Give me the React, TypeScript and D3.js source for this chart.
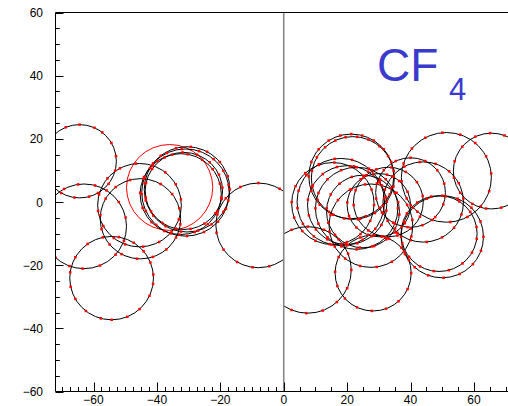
import * as d3 from "d3";

const W = 508;
const H = 406;

// axis frame (the right side of the original frame is cut off by the picture)
const X_DOMAIN: [number, number] = [-72, 72];
const Y_DOMAIN: [number, number] = [-60, 60];

const xTickLabels = [-60, -40, -20, 0, 20, 40, 60];
const yTickLabels = [-60, -40, -20, 0, 20, 40, 60];

type Track = { cx: number; cy: number; r: number; hits: number[] };

// tracks in the left half (x < 0): centre, radius, hit angles in degrees
const leftTracks: Track[] = [
  { cx: -64.4, cy: 12.9, r: 11.6, hits: [8, 30, 52, 66, 90, 112, 215, 240, 262, 285, 300, 322, 345] },
  { cx: -63, cy: -7.7, r: 13.4, hits: [12, 35, 58, 75, 98, 118, 140, 200, 228, 250, 268, 292, 318, 340] },
  { cx: -54.3, cy: -24.1, r: 13.2, hits: [5, 22, 40, 58, 80, 102, 125, 150, 172, 192, 210, 232, 255, 270, 292, 312, 335, 352] },
  { cx: -45.5, cy: -1, r: 13.2, hits: [8, 30, 52, 72, 95, 118, 140, 165, 188, 210, 232, 250, 275, 298, 320, 340] },
  { cx: -45.2, cy: -5.3, r: 12.7, hits: [15, 38, 60, 85, 105, 128, 150, 175, 195, 220, 242, 265, 288, 310, 332, 352] },
  { cx: -30.5, cy: 4, r: 13.5, hits: [0, 18, 40, 62, 85, 105, 128, 150, 172, 195, 218, 240, 262, 285, 305, 328, 345] },
  { cx: -31, cy: 3, r: 13.8, hits: [10, 30, 50, 72, 95, 115, 138, 160, 182, 205, 228, 250, 272, 295, 318, 338] },
  { cx: -31.5, cy: 3.5, r: 12.2, hits: [5, 25, 48, 70, 92, 120, 145, 168, 190, 212, 236, 258, 280, 302, 325, 348] },
  { cx: -32.5, cy: 2.5, r: 12.8, hits: [15, 38, 58, 80, 102, 125, 155, 178, 200, 224, 246, 268, 290, 312, 335, 355] },
  { cx: -8, cy: -7.4, r: 13.4, hits: [60, 90, 115, 140, 165, 190, 215, 240, 262, 285] },
];

// the fitted ring drawn in red, no hits on it
const fitRing = { cx: -36, cy: 4.6, r: 13.6 };

// tracks in the right half (x > 0)
const rightTracks: Track[] = [
  { cx: 21.3, cy: 8.1, r: 13.4, hits: [0, 20, 40, 58, 75, 90, 105, 122, 140, 160, 180, 200, 222, 245, 268, 290, 312, 335] },
  { cx: 21.8, cy: 7.6, r: 13.1, hits: [10, 32, 50, 68, 84, 100, 115, 132, 150, 170, 192, 212, 235, 258, 280, 302, 325, 348] },
  { cx: 65.5, cy: 9.8, r: 12, hits: [0, 20, 45, 70, 92, 115, 140, 165, 190, 215, 240, 262, 285, 310, 335] },
  { cx: 51.3, cy: 7.8, r: 14.2, hits: [5, 28, 50, 72, 95, 118, 140, 162, 185, 208, 230, 252, 275, 298, 320, 342] },
  { cx: 50, cy: -11, r: 13, hits: [0, 22, 45, 68, 90, 112, 135, 158, 180, 205, 228, 250, 272, 295, 318, 340] },
  { cx: 49, cy: -10, r: 12, hits: [10, 35, 58, 80, 102, 125, 148, 170, 195, 218, 240, 262, 285, 308, 330, 352] },
  { cx: 28.2, cy: -22.5, r: 12, hits: [0, 20, 42, 65, 88, 110, 132, 155, 178, 200, 222, 245, 268, 290, 312, 335] },
  { cx: 7.6, cy: -21.5, r: 13.7, hits: [0, 22, 45, 68, 90, 112, 248, 268, 290, 312, 335] },
  { cx: 18, cy: 0, r: 13.8, hits: [5, 28, 50, 75, 98, 120, 142, 165, 188, 210, 232, 255, 278, 300, 322, 345] },
  { cx: 20, cy: -1, r: 12.5, hits: [12, 35, 58, 80, 105, 128, 150, 172, 195, 218, 240, 262, 285, 308, 330, 352] },
  { cx: 23, cy: -2, r: 13, hits: [0, 22, 45, 68, 90, 112, 135, 158, 180, 202, 225, 248, 270, 292, 315, 338] },
  { cx: 25, cy: -3, r: 11.5, hits: [15, 40, 62, 85, 108, 130, 152, 175, 198, 220, 242, 265, 288, 310, 332, 355] },
  { cx: 27.5, cy: -7.5, r: 13.2, hits: [8, 30, 52, 75, 98, 120, 142, 165, 188, 210, 232, 255, 278, 300, 322, 345] },
  { cx: 15.5, cy: -0.5, r: 13, hits: [20, 42, 65, 88, 110, 132, 155, 178, 200, 222, 245, 268, 290, 312, 335, 358] },
  { cx: 30, cy: -1, r: 10, hits: [0, 25, 50, 75, 100, 125, 150, 175, 200, 225, 250, 275, 300, 325] },
  { cx: 33, cy: 0, r: 11, hits: [10, 35, 60, 85, 110, 135, 160, 185, 210, 235, 260, 285, 310, 335] },
  { cx: 44, cy: 0, r: 12.7, hits: [5, 28, 50, 72, 95, 118, 140, 162, 185, 208, 230, 252, 275, 298, 320, 342] },
  { cx: 40, cy: 3, r: 11, hits: [15, 40, 65, 90, 115, 140, 165, 190, 215, 240, 265, 290, 315, 340] },
];

const FONT = "'Liberation Sans', Arial, Helvetica, sans-serif";

export default function App() {
  const x = d3.scaleLinear().domain(X_DOMAIN).range([55.5, 55.5 + 144 * 3.17]);
  const y = d3.scaleLinear().domain(Y_DOMAIN).range([391.5, 12.5]);

  const left = x(X_DOMAIN[0]);
  const top = y(Y_DOMAIN[1]);
  const bottom = y(Y_DOMAIN[0]);
  const zero = x(0);

  const yTicks = d3.range(-60, 60.1, 5);
  const xTicks = [...d3.range(-70, 0, 2.5), ...d3.range(0, 70.1, 5)];

  const fmt = (v: number) => (v < 0 ? `\u2212${-v}` : `${v}`);

  const ring = (t: { cx: number; cy: number; r: number }, stroke: string, key: string) => (
    <ellipse
      key={key}
      cx={x(t.cx)}
      cy={y(t.cy)}
      rx={x(t.cx + t.r) - x(t.cx)}
      ry={y(t.cy - t.r) - y(t.cy)}
      fill="none"
      stroke={stroke}
      strokeWidth={1}
    />
  );

  const hits = (t: Track, key: string) =>
    t.hits.map((a, i) => {
      const rad = (a * Math.PI) / 180;
      return (
        <rect
          key={`${key}-${i}`}
          x={x(t.cx + t.r * Math.cos(rad)) - 1.25}
          y={y(t.cy + t.r * Math.sin(rad)) - 1.25}
          width={2.5}
          height={2.5}
          fill="#ff0000"
        />
      );
    });

  return (
    <svg
      width={W}
      height={H}
      style={{ position: "absolute", left: 0, top: 0, background: "#fff" }}
      fontFamily={FONT}
    >
      <defs>
        <clipPath id="clip-left">
          <rect x={left} y={top} width={zero - left} height={bottom - top} />
        </clipPath>
        <clipPath id="clip-right">
          <rect x={zero} y={top} width={W - zero} height={bottom - top} />
        </clipPath>
      </defs>

      {/* tracks */}
      <g clipPath="url(#clip-left)">
        {ring(fitRing, "#ff0000", "fit")}
        {leftTracks.map((t, i) => ring(t, "#000", `l${i}`))}
        {leftTracks.map((t, i) => hits(t, `lh${i}`))}
      </g>
      <g clipPath="url(#clip-right)">
        {rightTracks.map((t, i) => ring(t, "#000", `r${i}`))}
        {rightTracks.map((t, i) => hits(t, `rh${i}`))}
      </g>

      {/* zero line */}
      <line x1={zero} x2={zero} y1={top} y2={bottom} stroke="#888" strokeWidth={1.6} />

      {/* frame */}
      <line x1={left} x2={W} y1={top} y2={top} stroke="#000" />
      <line x1={left} x2={W} y1={bottom} y2={bottom} stroke="#000" />
      <line x1={left} x2={left} y1={top} y2={bottom} stroke="#000" />

      {/* y axis */}
      {yTicks.map((t) => (
        <line
          key={`yt${t}`}
          x1={left}
          x2={left + (t % 20 === 0 ? 8 : 4.3)}
          y1={Math.round(y(t)) + 0.5}
          y2={Math.round(y(t)) + 0.5}
          stroke="#000"
        />
      ))}
      {yTickLabels.map((t) => (
        <text key={`yl${t}`} x={43} y={y(t) + 4.5} fontSize={12} textAnchor="end" fill="#000">
          {fmt(t)}
        </text>
      ))}

      {/* x axis */}
      {xTicks.map((t) => (
        <line
          key={`xt${t}`}
          x1={Math.round(x(t)) + 0.5}
          x2={Math.round(x(t)) + 0.5}
          y1={bottom}
          y2={bottom - (t % 20 === 0 ? 9 : 4.5)}
          stroke="#000"
        />
      ))}
      {xTickLabels.map((t) => (
        <text key={`xl${t}`} x={x(t)} y={403.5} fontSize={12} textAnchor="middle" fill="#000">
          {fmt(t)}
        </text>
      ))}

      {/* label */}
      <text x={377} y={81} fontSize={46} fill="#3a3acc">
        CF
      </text>
      <text x={449} y={100} fontSize={31} fill="#3a3acc">
        4
      </text>
    </svg>
  );
}
